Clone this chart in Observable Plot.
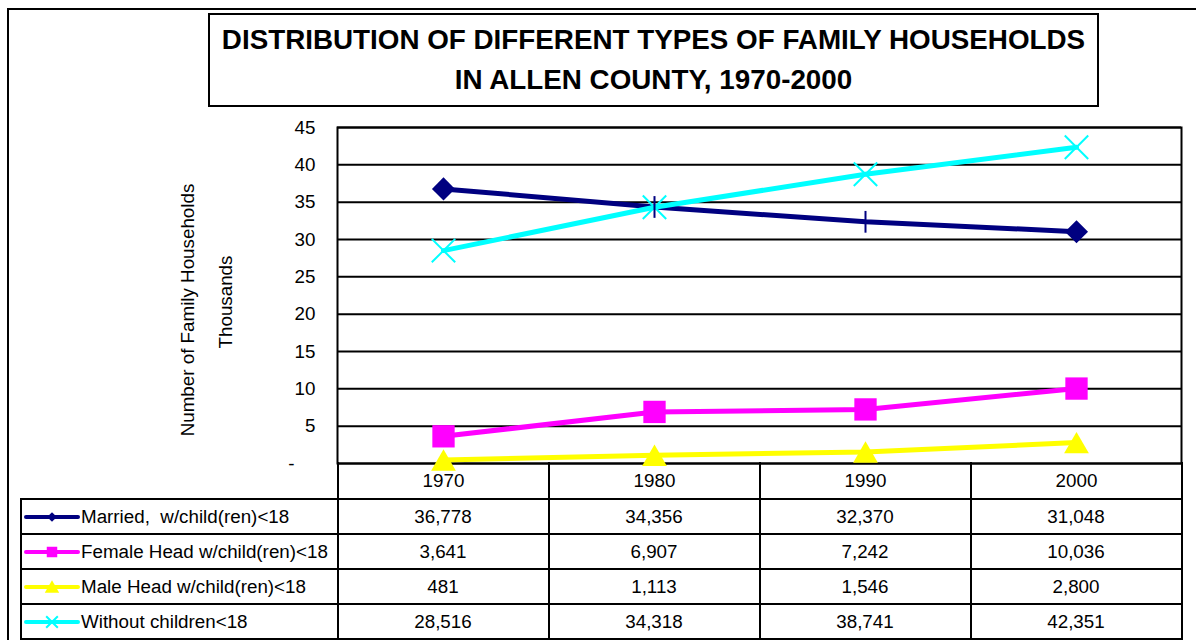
<!DOCTYPE html>
<html><head><meta charset="utf-8">
<script src="https://cdn.jsdelivr.net/npm/d3@7"></script>
<script src="https://cdn.jsdelivr.net/npm/@observablehq/plot@0.6"></script>
<style>
html,body{margin:0;padding:0;background:#fff;}
body{width:1196px;height:640px;overflow:hidden;position:relative;font-family:"Liberation Sans",Arial,sans-serif;color:#000;}
#outer{position:absolute;left:7px;top:8px;width:1300px;height:800px;border:2px solid #000;box-sizing:border-box;}
#chart{position:absolute;left:0;top:0;}
#title{position:absolute;left:208px;top:13px;width:891px;height:94px;border:2px solid #000;box-sizing:border-box;background:#fff;text-align:center;font-weight:bold;font-size:27.8px;line-height:40px;padding-top:5px;white-space:nowrap;}
.ytitle{position:absolute;width:400px;height:22px;line-height:22px;text-align:center;font-size:18.8px;transform:rotate(-90deg);transform-origin:50% 50%;white-space:nowrap;}
.cell{position:absolute;border:2px solid #000;box-sizing:border-box;display:flex;align-items:center;justify-content:center;font-size:18.8px;white-space:nowrap;}
.cell.leg{justify-content:flex-start;}
.cell.hdr{border-top:none;}
</style>
</head><body>
<div id="outer"></div>
<div id="chart"></div>
<div id="title">DISTRIBUTION OF DIFFERENT TYPES OF FAMILY HOUSEHOLDS<br>IN ALLEN COUNTY, 1970-2000</div>
<div id="yt1" class="ytitle">Number of Family Households</div>
<div id="yt2" class="ytitle">Thousands</div>
<div id="table"></div>
<script>
// ---- data ----
const years = ["1970", "1980", "1990", "2000"];
const married = [36778, 34356, 32370, 31048];
const femaleHead = [3641, 6907, 7242, 10036];
const maleHead = [481, 1113, 1546, 2800];
const withoutChildren = [28516, 34318, 38741, 42351];
const seriesNames = ["Married,  w/child(ren)<18", "Female Head w/child(ren)<18", "Male Head w/child(ren)<18", "Without children<18"];
const seriesColors = ["#000080", "#FF00FF", "#FFFF00", "#00FFFF"];
const marriedMarkers = ["diamond", "tick", "tick", "diamond"];
const yTicks = [0, 5, 10, 15, 20, 25, 30, 35, 40, 45];

const seriesValues = [married, femaleHead, maleHead, withoutChildren];
const rows = seriesValues.flatMap((vals, s) => vals.map((v, i) => ({
  series: seriesNames[s], s, year: years[i], value: v, marker: s === 0 ? marriedMarkers[i] : null
})));
const bySeries = s => rows.filter(d => d.s === s);

const tickSymbol = {draw(ctx, size) { const h = Math.sqrt(size) * 0.62; ctx.moveTo(0, -h); ctx.lineTo(0, h); }};
const fontFam = '"Liberation Sans", Arial, sans-serif';

const lineOpts = s => ({x: "year", y: d => d.value / 1000, stroke: seriesColors[s], strokeWidth: 5, curve: "linear"});
const pos = {x: "year", y: d => d.value / 1000};

const plot = Plot.plot({
  width: 1196, height: 640,
  marginLeft: 337, marginRight: 15, marginTop: 127, marginBottom: 177,
  style: {background: "transparent", fontFamily: fontFam, fontSize: "18.8px", color: "#000", overflow: "visible"},
  x: {type: "point", domain: years, padding: 0.5, label: null},
  y: {domain: [0, 45], label: null},
  marks: [
    Plot.ruleY(yTicks, {stroke: "#000", strokeWidth: 2}),
    Plot.frame({stroke: "#000", strokeWidth: 2}),
    Plot.axisY({ticks: yTicks, tickSize: 0, tickPadding: 22, label: null, fontSize: 18.8,
      tickFormat: d => d === 0 ? "-\u00a0\u00a0\u00a0\u00a0" : String(d)}),
    Plot.axisX({tickSize: 0, tickPadding: 10, label: null, fontSize: 18.8}),
    Plot.line(bySeries(1), lineOpts(1)),
    Plot.line(bySeries(2), lineOpts(2)),
    Plot.line(bySeries(0), lineOpts(0)),
    Plot.line(bySeries(3), lineOpts(3)),
    Plot.dot(bySeries(1), {...pos, symbol: "square", r: 12.6, fill: seriesColors[1], stroke: "none"}),
    Plot.dot(bySeries(2), {...pos, symbol: "triangle", r: 9.2, dy: 3.6, fill: seriesColors[2], stroke: "none"}),
    Plot.dot(bySeries(3), {...pos, symbol: "times", r: 10.7, stroke: seriesColors[3], strokeWidth: 2}),
    Plot.dot(bySeries(0).filter(d => d.marker === "diamond"), {...pos, symbol: "diamond2", r: 10.4, fill: seriesColors[0], stroke: "none"}),
    Plot.dot(bySeries(0).filter(d => d.marker === "tick"), {...pos, symbol: tickSymbol, r: 9.9, stroke: seriesColors[0], strokeWidth: 2, fill: "none"})
  ]
});
document.getElementById("chart").appendChild(plot);

// ---- axis titles ----
const yt1 = document.getElementById("yt1"), yt2 = document.getElementById("yt2");
yt1.style.left = (188 - 200) + "px"; yt1.style.top = (310 - 11) + "px";
yt2.style.left = (226 - 200) + "px"; yt2.style.top = (302 - 11) + "px";

// ---- data table ----
const xs = plot.scale("x");
const yscale = plot.scale("y");
const step = (xs.range[1] - xs.range[0]) / years.length;
const colL = i => xs.apply(years[i]) - step / 2;
const axisY0 = yscale.apply(0);
const hdrBottom = axisY0 + 36;
const rowH = 35;
const tableLeft = 21;
const fmt = d3.format(",");
const tbl = document.getElementById("table");
function cell(x0, y0, x1, y1, cls, html) {
  const el = document.createElement("div");
  el.className = "cell " + cls;
  el.style.left = (x0 - 1) + "px"; el.style.top = (y0 - 1) + "px";
  el.style.width = (x1 - x0 + 2) + "px"; el.style.height = (y1 - y0 + 2) + "px";
  el.innerHTML = html;
  tbl.appendChild(el);
}
// header row (borders only; year labels come from the Plot x axis)
years.forEach((y, i) => cell(colL(i), axisY0, colL(i) + step, hdrBottom, "hdr", ""));

const symGen = {
  diamond: d3.symbol().type(d3.symbolDiamond2 || d3.symbolDiamond).size(60)(),
  square: d3.symbol().type(d3.symbolSquare).size(110)(),
  triangle: d3.symbol().type(d3.symbolTriangle).size(90)(),
  times: d3.symbol().type(d3.symbolTimes || d3.symbolX).size(90)()
};
const legendSym = ["diamond", "square", "triangle", "times"];
function swatch(s) {
  const c = seriesColors[s];
  const p = symGen[legendSym[s]];
  const isStroke = legendSym[s] === "times";
  return `<svg width="56" height="20" style="flex:none;margin-left:2px;margin-right:1px;overflow:visible">
    <line x1="2" y1="10" x2="54" y2="10" stroke="${c}" stroke-width="4" stroke-linecap="round"/>
    <path d="${p}" transform="translate(28,${legendSym[s] === "triangle" ? 11.5 : 10})" fill="${isStroke ? "none" : c}" stroke="${isStroke ? c : "none"}" stroke-width="2"/>
  </svg>`;
}
seriesValues.forEach((vals, s) => {
  const y0 = hdrBottom + s * rowH, y1 = y0 + rowH;
  cell(tableLeft, y0, colL(0), y1, "leg", swatch(s) + `<span style="white-space:pre">${seriesNames[s]}</span>`);
  vals.forEach((v, i) => cell(colL(i), y0, colL(i) + step, y1, "", fmt(v)));
});
</script>
</body></html>
